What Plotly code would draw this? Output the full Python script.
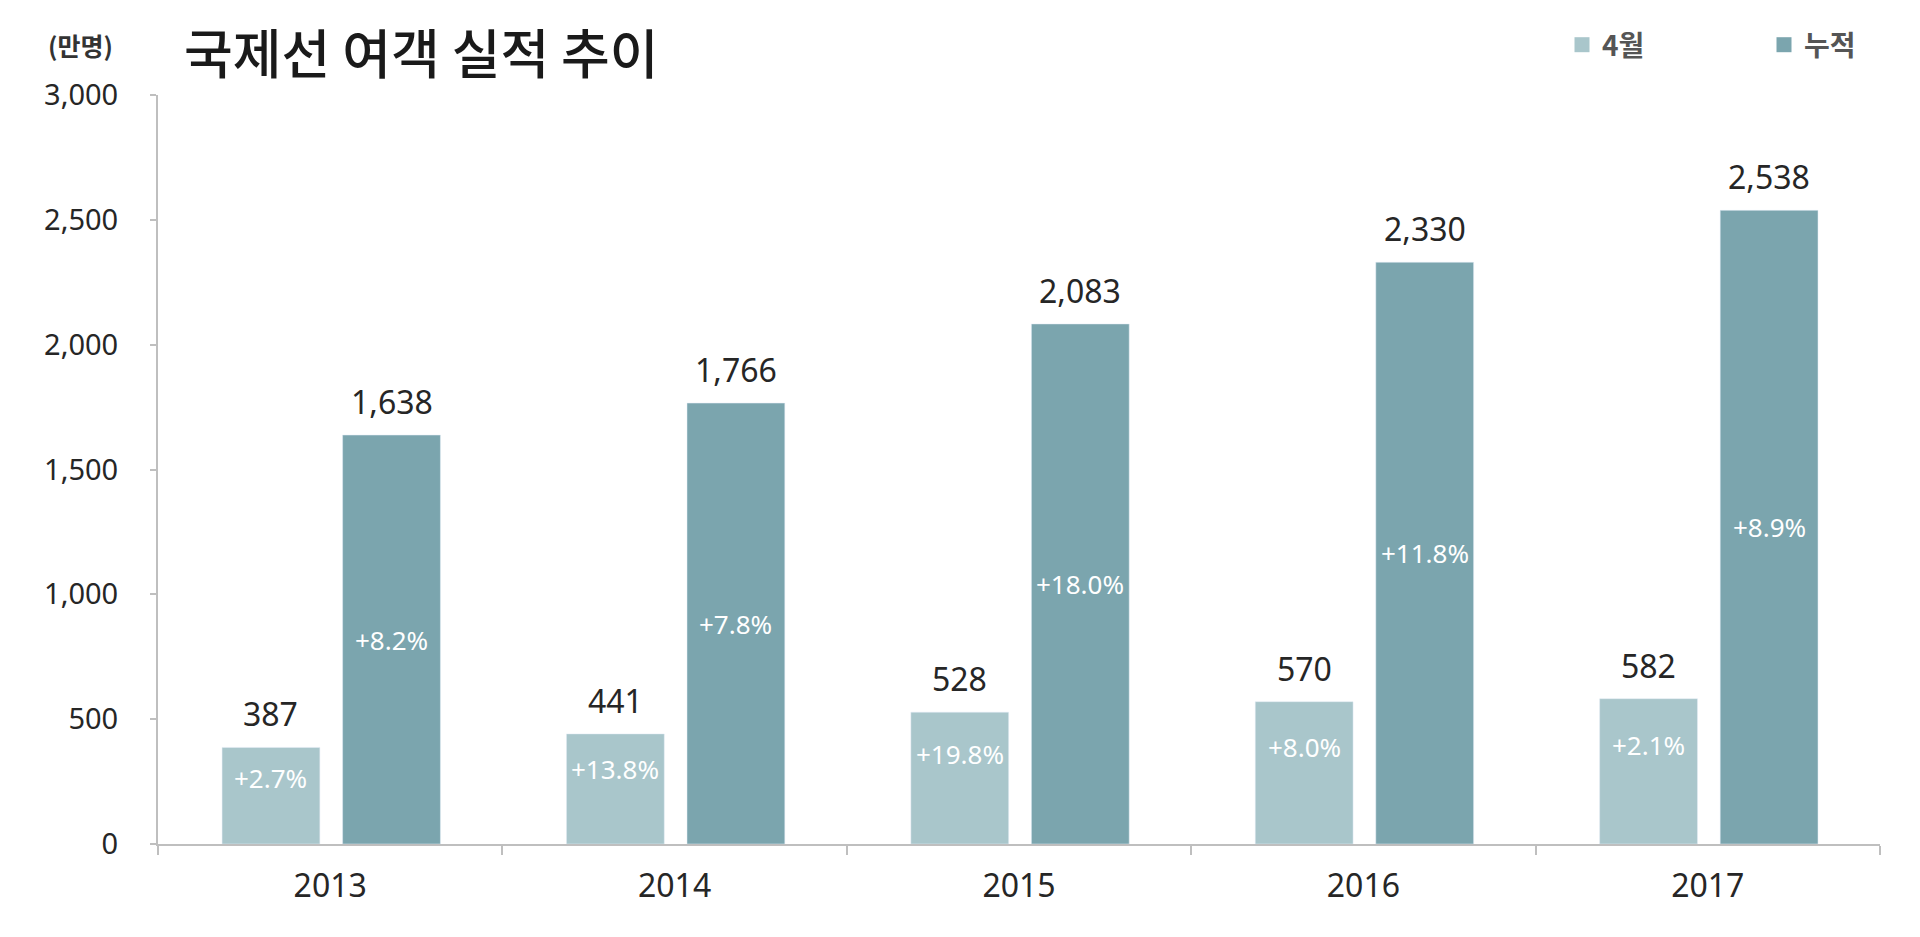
import plotly.graph_objects as go

years = [2013, 2014, 2015, 2016, 2017]
april = [387, 441, 528, 570, 582]
cumul = [1638, 1766, 2083, 2330, 2538]
april_pct = ["+2.7%", "+13.8%", "+19.8%", "+8.0%", "+2.1%"]
cumul_pct = ["+8.2%", "+7.8%", "+18.0%", "+11.8%", "+8.9%"]
series_names = ["4월", "누적"]

LIGHT = "#a9c6cb"
DARK = "#7ba5ae"
AXIS = "#bfbfbf"
NUM_FONT = "Noto Sans, Noto Sans CJK KR"
KR_FONT = "Noto Sans CJK KR"

bar_w = 0.284
off_a = -0.314   # left edge of the 4월 bar, relative to the year
off_c = 0.036    # left edge of the 누적 bar

fig = go.Figure()
fig.add_trace(go.Bar(x=years, y=april, name=series_names[0], marker_color=LIGHT,
                     width=bar_w, offset=off_a, hoverinfo="y", showlegend=False))
fig.add_trace(go.Bar(x=years, y=cumul, name=series_names[1], marker_color=DARK,
                     width=bar_w, offset=off_c, hoverinfo="y", showlegend=False))
# legend entries with bigger square swatches
for name, col in zip(series_names, [LIGHT, DARK]):
    fig.add_trace(go.Scatter(x=[None], y=[None], mode="markers", name=name,
                             marker=dict(symbol="square", size=15, color=col)))

annos = []
# value labels above bars, growth rates inside bars
for vals, pcts, off, frac in [(april, april_pct, off_a, 0.68), (cumul, cumul_pct, off_c, 0.5)]:
    for yr, v, p in zip(years, vals, pcts):
        xc = yr + off + bar_w / 2
        annos.append(dict(x=xc, y=v, text=f"{v:,}", showarrow=False, yanchor="bottom",
                          yshift=10, font=dict(family=NUM_FONT, size=32, color="#262626")))
        annos.append(dict(x=xc, y=v * frac, text=p, showarrow=False, yanchor="middle",
                          font=dict(family=NUM_FONT, size=26, color="white")))

annos.append(dict(xref="paper", yref="paper", x=-0.045, y=1.0668, text="<b>(만명)</b>",
                  showarrow=False, xanchor="center", yanchor="middle",
                  font=dict(family=KR_FONT, size=25, color="#333333")))

fig.update_layout(
    width=1920, height=937,
    margin=dict(l=150, r=48, t=87, b=101),
    plot_bgcolor="white", paper_bgcolor="white",
    title=dict(text="국제선 여객 실적 추이", x=176 / 1920, xref="container", xanchor="left",
               y=1 - 47 / 937, yanchor="middle",
               font=dict(family=KR_FONT, size=53, color="#1a1a1a", weight=500)),
    showlegend=True,
    legend=dict(orientation="h", xref="container", yref="container",
                x=1554 / 1920, xanchor="left", y=1 - 37 / 937, yanchor="middle",
                entrywidth=157,
                font=dict(family=KR_FONT, size=28, color="#555555", weight="bold"),
                bgcolor="rgba(0,0,0,0)"),
    annotations=annos,
    xaxis=dict(range=[years[0] - 0.5, years[-1] + 0.5], tickvals=years,
               ticktext=[str(y) for y in years], ticks="", showgrid=False,
               showline=True, linecolor=AXIS, linewidth=2, zeroline=False,
               automargin=False, ticklabelstandoff=13,
               tickfont=dict(family=NUM_FONT, size=32, color="#262626"),
               minor=dict(tick0=years[0] - 0.5, dtick=1, ticks="outside", ticklen=9,
                          tickcolor=AXIS, tickwidth=2, showgrid=False)),
    yaxis=dict(range=[0, 3000], dtick=500, tickformat=",", showgrid=False,
               showline=True, linecolor=AXIS, linewidth=2, zeroline=False,
               ticks="outside", ticklen=6, tickcolor=AXIS, tickwidth=2,
               automargin=False, ticklabelstandoff=26,
               tickfont=dict(family=NUM_FONT, size=29, color="#262626")),
)

fig.write_html("out.html")
